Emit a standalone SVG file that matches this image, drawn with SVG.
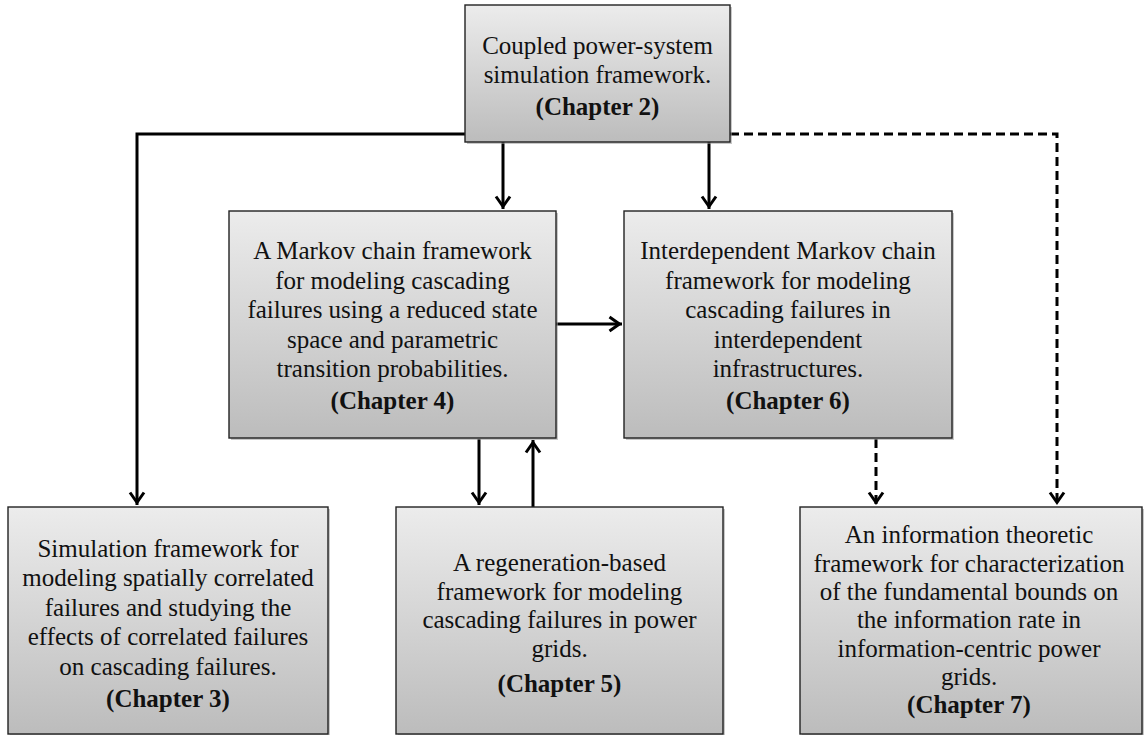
<svg xmlns="http://www.w3.org/2000/svg" width="1147" height="737" viewBox="0 0 1147 737">
<style>
.box{fill:url(#g);stroke:#222;stroke-width:1.4}
.sh{fill:#9a9a9a;opacity:0.55}
.t{font-family:"Liberation Serif","Times New Roman",serif;font-size:25px;fill:#111;text-anchor:middle}
.b{font-weight:bold}
.c{fill:none;stroke:#000;stroke-width:3}
.d{stroke-dasharray:9 5}
</style>
<defs>
<linearGradient id="g" x1="0" y1="0" x2="0" y2="1">
<stop offset="0" stop-color="#ececec"/>
<stop offset="1" stop-color="#bcbcbc"/>
</linearGradient>
<marker id="ah" markerUnits="userSpaceOnUse" markerWidth="24" markerHeight="24" viewBox="-14 -12 20 24" refX="2.5" refY="0" orient="auto">
<path d="M-10,-7 L0,0 L-10,7" fill="none" stroke="#000" stroke-width="3"/>
</marker>
</defs>
<rect width="1147" height="737" fill="#fff"/>
<g id="connectors">
<path class="c" d="M465,134 H137 V505" marker-end="url(#ah)"/>
<path class="c d" d="M730,134 H1057 V505" marker-end="url(#ah)"/>
<path class="c" d="M503,142 V209" marker-end="url(#ah)"/>
<path class="c" d="M709,142 V209" marker-end="url(#ah)"/>
<path class="c" d="M556,324 H622" marker-end="url(#ah)"/>
<path class="c" d="M479,439 V505" marker-end="url(#ah)"/>
<path class="c" d="M533,507 V440" marker-end="url(#ah)"/>
<path class="c d" d="M876,439 V505" marker-end="url(#ah)"/>
</g>
<g id="ch2">
<rect class="sh" x="467" y="7" width="265" height="137"/>
<rect class="box" x="465" y="5" width="265" height="137"/>
<text class="t" x="597.5" y="54">Coupled power-system</text>
<text class="t" x="597.5" y="83">simulation framework.</text>
<text class="t b" x="597.5" y="115">(Chapter 2)</text>
</g>
<g id="ch4">
<rect class="sh" x="231" y="213" width="327" height="227"/>
<rect class="box" x="229" y="211" width="327" height="227"/>
<text class="t" x="392.5" y="259">A Markov chain framework</text>
<text class="t" x="392.5" y="289">for modeling cascading</text>
<text class="t" x="392.5" y="318">failures using a reduced state</text>
<text class="t" x="392.5" y="348">space and parametric</text>
<text class="t" x="392.5" y="377">transition probabilities.</text>
<text class="t b" x="392.5" y="409">(Chapter 4)</text>
</g>
<g id="ch6">
<rect class="sh" x="626" y="213" width="328" height="227"/>
<rect class="box" x="624" y="211" width="328" height="227"/>
<text class="t" x="788" y="259">Interdependent Markov chain</text>
<text class="t" x="788" y="289">framework for modeling</text>
<text class="t" x="788" y="318">cascading failures in</text>
<text class="t" x="788" y="348">interdependent</text>
<text class="t" x="788" y="377">infrastructures.</text>
<text class="t b" x="788" y="409">(Chapter 6)</text>
</g>
<g id="ch3">
<rect class="sh" x="10" y="509" width="320" height="226"/>
<rect class="box" x="8" y="507" width="320" height="227"/>
<text class="t" x="168" y="557">Simulation framework for</text>
<text class="t" x="168" y="586">modeling spatially correlated</text>
<text class="t" x="168" y="616">failures and studying the</text>
<text class="t" x="168" y="645">effects of correlated failures</text>
<text class="t" x="168" y="675">on cascading failures.</text>
<text class="t b" x="168" y="707">(Chapter 3)</text>
</g>
<g id="ch5">
<rect class="sh" x="398" y="509" width="327" height="226"/>
<rect class="box" x="396" y="507" width="327" height="227"/>
<text class="t" x="559.5" y="571">A regeneration-based</text>
<text class="t" x="559.5" y="600">framework for modeling</text>
<text class="t" x="559.5" y="628">cascading failures in power</text>
<text class="t" x="559.5" y="657">grids.</text>
<text class="t b" x="559.5" y="692">(Chapter 5)</text>
</g>
<g id="ch7">
<rect class="sh" x="802" y="509" width="342" height="226"/>
<rect class="box" x="800" y="507" width="342" height="227"/>
<text class="t" x="969" y="543">An information theoretic</text>
<text class="t" x="969" y="572">framework for characterization</text>
<text class="t" x="969" y="600">of the fundamental bounds on</text>
<text class="t" x="969" y="628">the information rate in</text>
<text class="t" x="969" y="657">information-centric power</text>
<text class="t" x="969" y="685">grids.</text>
<text class="t b" x="969" y="713">(Chapter 7)</text>
</g>
</svg>
